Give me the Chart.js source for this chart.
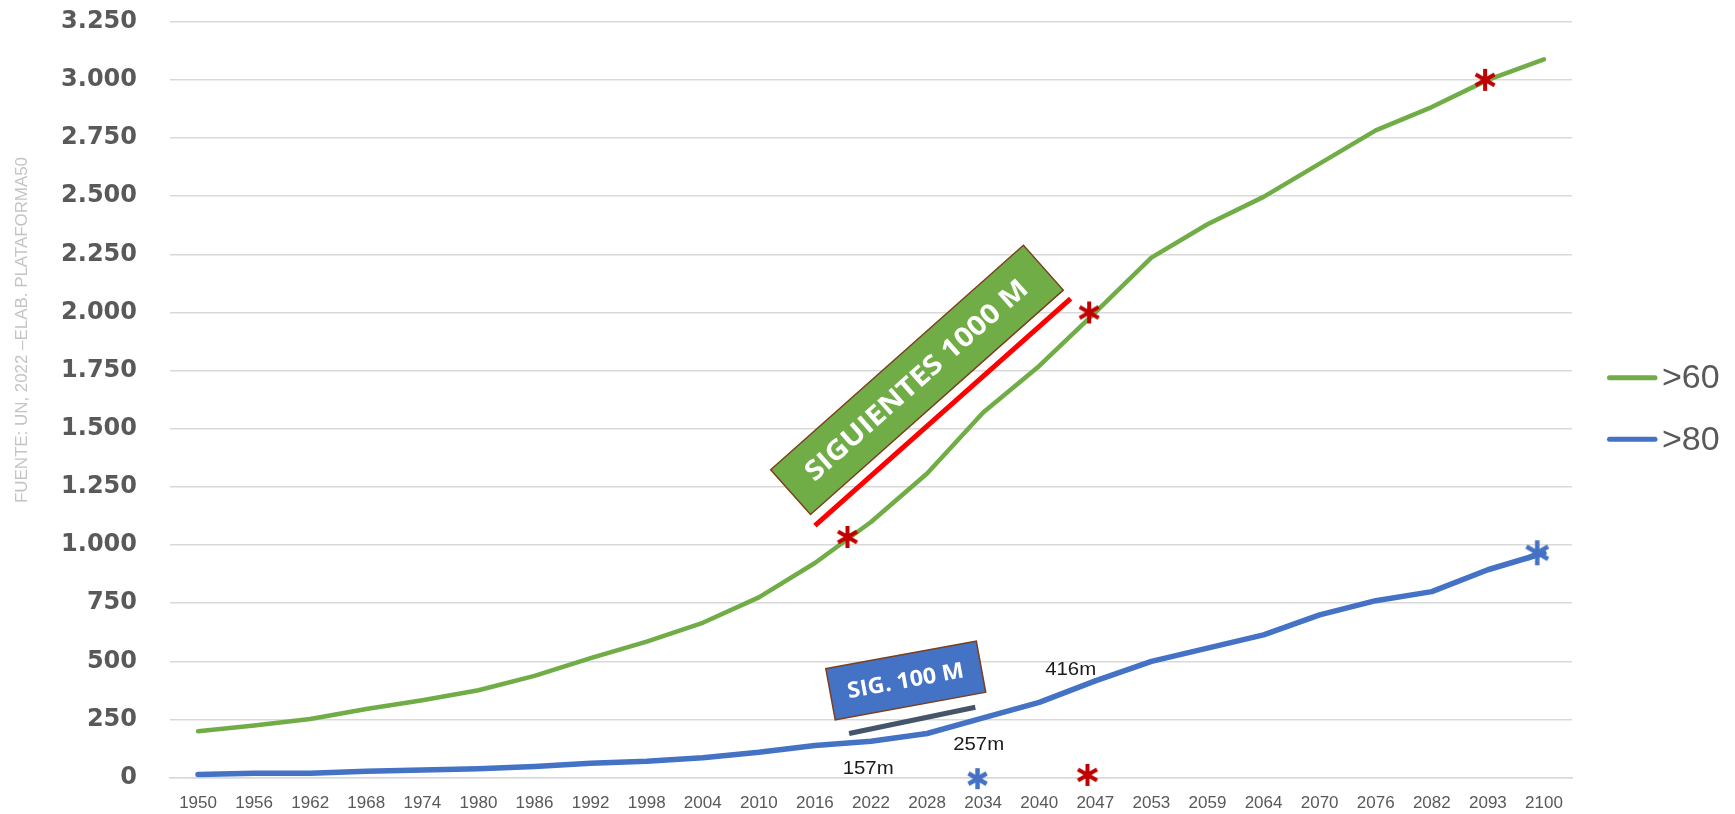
<!DOCTYPE html>
<html>
<head>
<meta charset="utf-8">
<script src="https://cdn.jsdelivr.net/npm/chart.js@4.4.1/dist/chart.umd.min.js"></script>
<style>
    html, body { margin: 0; padding: 0; background: #ffffff; }
    #wrap { width: 1735px; height: 814px; position: relative; }
</style>
</head>
<body>
<div id="wrap"><canvas id="popChart"></canvas></div>
<script>
// Población mundial por edad (millones)
const years = ["1950", "1956", "1962", "1968", "1974", "1980", "1986", "1992", "1998", "2004",
    "2010", "2016", "2022", "2028", "2034", "2040", "2047", "2053", "2059", "2064",
    "2070", "2076", "2082", "2093", "2100"];
const over60 = [200, 224, 252, 295, 333, 376, 438, 514, 585, 666,
    775, 923, 1099, 1308, 1570, 1770, 2000, 2236, 2379, 2497,
    2640, 2783, 2883, 3000, 3088];
const over80 = [14, 19, 19, 28, 33, 38, 48, 62, 71, 86,
    109, 138, 157, 190, 257, 324, 416, 500, 557, 614,
    700, 761, 800, 894, 966];
const seriesNames = [">60", ">80"];

// y axis ticks
const yMin = 0;
const yMax = 3250;
const yStep = 250;

// star markers (x = position along the years, as index)
const redStars = [{ x: 11.58, y: 1035 }, { x: 15.89, y: 2000 }, { x: 22.95, y: 3000 }, { x: 15.86, y: 12 }];
const blueStars = [{ x: 13.9, y: -4 }, { x: 23.88, y: 967 }];

// callout labels on the >80 line
const calloutText = ["157m", "257m", "416m"];

const GREEN = "#70AD47";
const BLUE = "#4472C4";
const RED = "#C00000";
const GREY = "#595959";

function makeStar(color, size, width) {
    const c = document.createElement("canvas");
    c.width = size + 4;
    c.height = size + 4;
    const g = c.getContext("2d");
    g.translate(c.width / 2, c.height / 2);
    g.strokeStyle = color;
    g.lineWidth = width;
    g.lineCap = "butt";
    const r = size / 2;
    [90, 30, 150].forEach((deg) => {
        const a = deg * Math.PI / 180;
        g.beginPath();
        g.moveTo(-Math.cos(a) * r, -Math.sin(a) * r);
        g.lineTo(Math.cos(a) * r, Math.sin(a) * r);
        g.stroke();
    });
    return c;
}

const redStarImg = makeStar(RED, 22, 4);
const blueStarBig = makeStar(BLUE, 25, 4.5);
const blueStarSmall = makeStar(BLUE, 21, 4.5);

function fmtThousands(v) {
    return String(v).replace(/\B(?=(\d{3})+(?!\d))/g, ".");
}

// draws text squeezed/stretched to a given width
function drawFitText(ctx, text, x, y, width, font, color, angle, align) {
    ctx.save();
    ctx.translate(x, y);
    ctx.rotate(angle || 0);
    ctx.font = font;
    const w = ctx.measureText(text).width;
    ctx.scale(width / w, 1);
    ctx.fillStyle = color;
    ctx.textAlign = align || "center";
    ctx.textBaseline = "middle";
    ctx.fillText(text, 0, 0);
    ctx.restore();
}

function drawBox(ctx, cx, cy, w, h, angle, fill, text, textW, font) {
    ctx.save();
    ctx.translate(cx, cy);
    ctx.rotate(angle);
    ctx.fillStyle = fill;
    ctx.fillRect(-w / 2, -h / 2, w, h);
    ctx.strokeStyle = "#7B3F1E";
    ctx.lineWidth = 1.5;
    ctx.strokeRect(-w / 2, -h / 2, w, h);
    ctx.restore();
    drawFitText(ctx, text, cx, cy + 1, textW, font, "#ffffff", angle);
}

const annotations = {
    id: "annotations",
    afterDatasetsDraw(chart) {
        const ctx = chart.ctx;
        const xs = chart.scales.x2;
        const ys = chart.scales.y;
        const px = (v) => xs.getPixelForValue(v);
        const py = (v) => ys.getPixelForValue(v);

        ctx.save();
        ctx.lineCap = "butt";
        // red guide line next to the >60 curve
        ctx.strokeStyle = "#FF0000";
        ctx.lineWidth = 5;
        ctx.beginPath();
        ctx.moveTo(px(11.0), py(1084));
        ctx.lineTo(px(15.56), py(2059));
        ctx.stroke();

        // dark guide line for the blue box
        ctx.strokeStyle = "#44546A";
        ctx.lineWidth = 5;
        ctx.beginPath();
        ctx.moveTo(px(11.61), py(190));
        ctx.lineTo(px(13.86), py(303));
        ctx.stroke();
        ctx.restore();

        drawBox(ctx, px(12.82), py(1710), 338, 60, -41.6 * Math.PI / 180, GREEN,
            "SIGUIENTES 1000 M", 288, "bold 27px 'Open Sans'");
        drawBox(ctx, px(12.62), py(418), 153, 52, -10.4 * Math.PI / 180, BLUE,
            "SIG. 100 M", 118, "bold 22px 'Open Sans'");

        // callouts
        const calloutPos = [[11.95, 37], [13.92, 142], [15.56, 461]];
        calloutText.forEach((t, i) => {
            drawFitText(ctx, t, px(calloutPos[i][0]), py(calloutPos[i][1]), 51,
                "18px 'Liberation Sans'", "#1a1a1a", 0);
        });

        // source note
        drawFitText(ctx, "FUENTE: UN, 2022 \u2013ELAB. PLATAFORMA50", 23, 330, 346,
            "16px 'Liberation Sans'", "#C4C4C4", -Math.PI / 2);

        // legend on the right
        const area = chart.chartArea;
        chart.data.datasets.forEach((ds) => {
            const idx = seriesNames.indexOf(ds.label);
            if (idx < 0) {
                return;
            }
            const ly = 377.7 + idx * 61.6;
            const lx = area.right + 35;
            ctx.save();
            ctx.strokeStyle = ds.borderColor;
            ctx.lineWidth = 5;
            ctx.lineCap = "round";
            ctx.beginPath();
            ctx.moveTo(lx + 2.5, ly);
            ctx.lineTo(lx + 48, ly);
            ctx.stroke();
            ctx.fillStyle = GREY;
            ctx.font = "34px 'Liberation Sans'";
            ctx.textBaseline = "middle";
            ctx.fillText(ds.label, lx + 55, ly + 1);
            ctx.restore();
        });
    }
};

const ctx = document.getElementById("popChart").getContext("2d");
new Chart(ctx, {
    type: "line",
    data: {
        labels: years,
        datasets: [
            {
                label: seriesNames[0],
                data: over60,
                borderColor: GREEN,
                backgroundColor: GREEN,
                borderWidth: 4.5,
                borderCapStyle: "round",
                borderJoinStyle: "round",
                pointRadius: 0,
                tension: 0,
                order: 2
            },
            {
                label: seriesNames[1],
                data: over80,
                borderColor: BLUE,
                backgroundColor: BLUE,
                borderWidth: 5.5,
                borderCapStyle: "round",
                borderJoinStyle: "round",
                pointRadius: 0,
                tension: 0,
                order: 2
            },
            {
                type: "scatter",
                label: "redStars",
                data: redStars,
                xAxisID: "x2",
                pointStyle: redStarImg,
                pointRadius: 10,
                showLine: false,
                clip: false,
                order: 0
            },
            {
                type: "scatter",
                label: "blueStars",
                data: blueStars,
                xAxisID: "x2",
                pointStyle: [blueStarSmall, blueStarBig],
                pointRadius: 10,
                showLine: false,
                clip: false,
                order: 0
            }
        ]
    },
    options: {
        responsive: true,
        maintainAspectRatio: false,
        animation: false,
        layout: { autoPadding: false, padding: { left: 61, right: 163, top: 21.7, bottom: 0 } },
        plugins: {
            tooltip: { enabled: false },
            legend: { display: false }
        },
        scales: {
            x: {
                type: "category",
                offset: true,
                grid: { display: false, drawTicks: false },
                border: { display: true, color: "#D9D9D9", width: 1.5 },
                afterFit: (scale) => { scale.height = 36.3; },
                ticks: {
                    autoSkip: false,
                    maxRotation: 0,
                    padding: 15,
                    color: GREY,
                    font: { family: "'Liberation Sans'", size: 17 }
                }
            },
            x2: {
                type: "linear",
                display: false,
                min: -0.5,
                max: years.length - 0.5
            },
            y: {
                min: yMin,
                max: yMax,
                border: { display: false },
                grid: { color: "#D9D9D9", lineWidth: 1.5, drawTicks: false },
                afterFit: (scale) => {
                    scale.width = 109;
                    scale.paddingTop = 0;
                    scale.paddingBottom = 0;
                },
                ticks: {
                    stepSize: yStep,
                    padding: 33,
                    color: GREY,
                    font: { family: "'DejaVu Sans'", size: 24, weight: "bold" },
                    callback: (v) => fmtThousands(v)
                }
            }
        }
    },
    plugins: [annotations]
});
</script>
</body>
</html>
